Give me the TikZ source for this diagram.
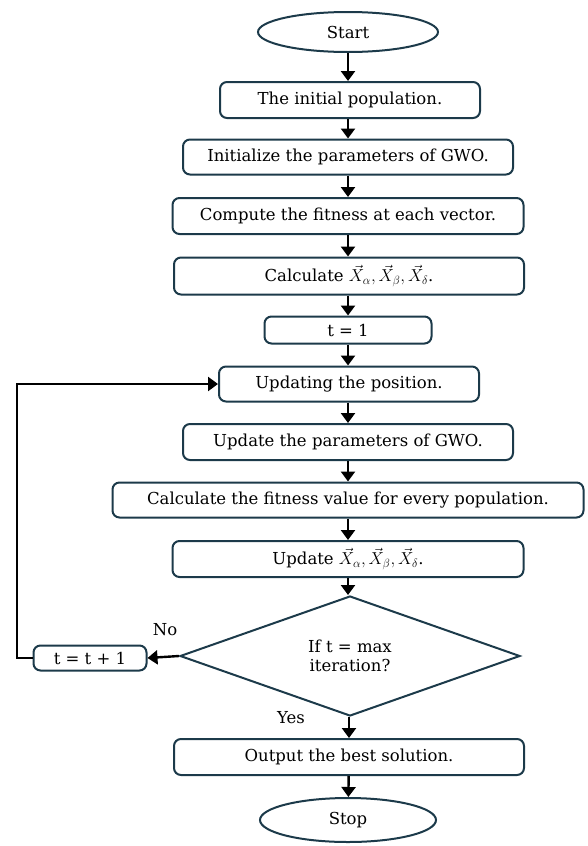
\documentclass[tikz,border=0pt]{standalone}
\usepackage{fontspec}
\setmainfont{DejaVu Serif}
\usetikzlibrary{shapes.geometric,arrows.meta}
\definecolor{boxc}{HTML}{1C3A4A}
\tikzset{
  txt/.style={font=\fontsize{16.5}{19}\selectfont},
  proc/.style={txt, draw=boxc, line width=2pt, rounded corners=7pt, inner sep=0pt,
               align=center},
  term/.style={txt, draw=boxc, line width=2pt, ellipse, inner sep=0pt,
               minimum width=180, minimum height=40},
  decision/.style={txt, draw=boxc, line width=2pt, diamond, inner sep=0pt, aspect=2.83,
               minimum width=340, minimum height=120, align=center},
  flow/.style={line width=2.4pt, -{Triangle[length=10pt,width=14pt]}}
}
\begin{document}
\begin{tikzpicture}[x=1pt,y=-1pt]
\useasboundingbox (0,0) rectangle (587,846);

\node[term] (start) at (348,32) {Start};
\node[proc, minimum width=260, minimum height=36] (init) at (350,100) {The initial population.};
\node[proc, minimum width=330, minimum height=35] (param) at (348,157) {Initialize the parameters of GWO.};
\node[proc, minimum width=351, minimum height=36] (fit) at (348,216) {Compute the fitness at each vector.};
\node[proc, minimum width=350, minimum height=37] (calc) at (349,276) {Calculate $\vec{X}_{\alpha}, \vec{X}_{\beta}, \vec{X}_{\delta}$.};
\node[proc, minimum width=167, minimum height=27] (tone) at (348,330) {t = 1};
\node[proc, minimum width=260, minimum height=35] (upos) at (349,384) {Updating the position.};
\node[proc, minimum width=330, minimum height=36] (upar) at (348,442) {Update the parameters of GWO.};
\node[proc, minimum width=471, minimum height=35] (fval) at (348,500) {Calculate the fitness value for every population.};
\node[proc, minimum width=351, minimum height=36] (ux) at (348,559) {Update $\vec{X}_{\alpha}, \vec{X}_{\beta}, \vec{X}_{\delta}$.};
\node[decision] (dec) at (350,656) {If t = max\\iteration?};
\node[proc, minimum width=113, minimum height=25] (inc) at (90,658) {t = t + 1};
\node[proc, minimum width=350, minimum height=36] (out) at (349,757) {Output the best solution.};
\node[term, minimum width=176, minimum height=44] (stop) at (348,820) {Stop};

\draw[flow] (start) -- (start |- init.north);
\draw[flow] (init.south -| param) -- (param);
\draw[flow] (param) -- (fit);
\draw[flow] (fit) -- (calc.north -| fit);
\draw[flow] (calc.south -| tone) -- (tone);
\draw[flow] (tone) -- (upos.north -| tone);
\draw[flow] (upos.south -| upar) -- (upar);
\draw[flow] (upar) -- (fval);
\draw[flow] (fval) -- (ux);
\draw[flow] (ux) -- (dec.north -| ux);
\draw[flow] (dec.west) -- (inc.east);
\draw[flow] (dec.south -| out) -- (out);
\draw[flow] (out) -- (stop);

\coordinate (corner) at (17,384);
\draw[flow] (inc.west) -| (corner) -- (upos.west);

\node[txt] (no) at (165,630) {No};
\node[txt] (yes) at (291,718) {Yes};
\end{tikzpicture}
\end{document}
